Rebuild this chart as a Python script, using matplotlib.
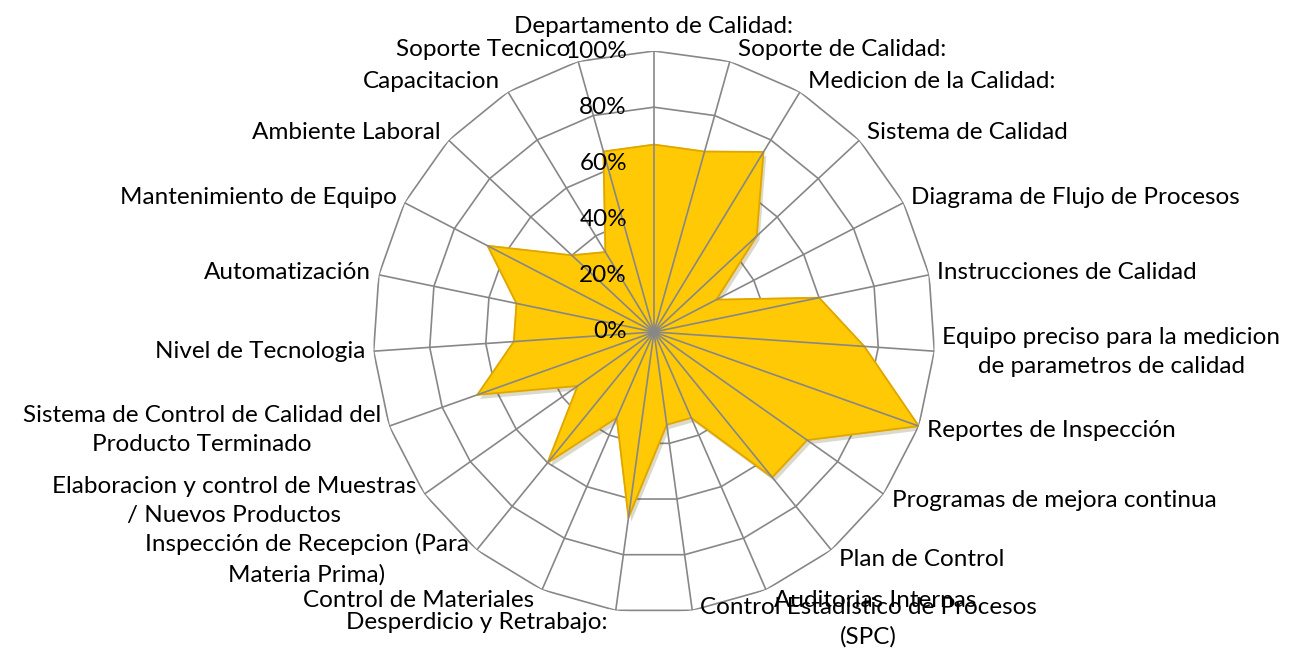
import numpy as np
import matplotlib.pyplot as plt
from matplotlib import patheffects as pe

categories = [
    'Departamento de Calidad:',
    'Soporte de Calidad:',
    'Medicion de la Calidad:',
    'Sistema de Calidad',
    'Diagrama de Flujo de Procesos',
    'Instrucciones de Calidad',
    'Equipo preciso para la medicion\nde parametros de calidad',
    'Reportes de Inspección',
    'Programas de mejora continua',
    'Plan de Control',
    'Auditorias Internas',
    'Control Estadistico de Procesos\n(SPC)',
    'Desperdicio y Retrabajo:',
    'Control de Materiales',
    'Inspección de Recepcion (Para\nMateria Prima)',
    'Elaboracion y control de Muestras\n/ Nuevos Productos',
    'Sistema de Control de Calidad del\nProducto Terminado',
    'Nivel de Tecnologia',
    'Automatización',
    'Mantenimiento de Equipo',
    'Ambiente Laboral',
    'Capacitacion',
    'Soporte Tecnico',
]
values = [0.667, 0.667, 0.75, 0.5, 0.25, 0.6, 0.75, 1.0, 0.667, 0.667, 0.333,
          0.333, 0.667, 0.333, 0.6, 0.333, 0.667, 0.5, 0.5, 0.667, 0.4, 0.333, 0.667]
rings = [0.2, 0.4, 0.6, 0.8, 1.0]
tick_vals = [0.0, 0.2, 0.4, 0.6, 0.8, 1.0]

FONT = 'Lato'
FS = 17.5
GRID = '#878787'

n = len(categories)
theta = np.arange(n) * 2 * np.pi / n
tc = np.append(theta, theta[0])
vc = np.append(values, values[0])

W, H = 1308, 654
cx, cy, R = 654, 322, 281
fig = plt.figure(figsize=(W / 100, H / 100), dpi=100)
ax = fig.add_axes([(cx - R) / W, (cy - R) / H, 2 * R / W, 2 * R / H], projection='polar')
ax.set_theta_zero_location('N')
ax.set_theta_direction(-1)
ax.set_ylim(0, 1)
ax.grid(False)
ax.spines['polar'].set_visible(False)
ax.set_xticks([])
ax.set_yticks([])
ax.patch.set_visible(False)

# polygon rings under the area
for lvl in rings:
    ax.plot(tc, [lvl] * (n + 1), color=GRID, lw=1.2, zorder=1)

ax.fill(tc, vc, color='#FFC905', zorder=2,
        path_effects=[pe.SimplePatchShadow(offset=(2, -3), alpha=0.2), pe.Normal()])
ax.plot(tc, vc, color='#E0A600', lw=1.3, zorder=2.5)

# spokes on top
for t in theta:
    ax.plot([t, t], [0, 1], color=GRID, lw=1.2, zorder=3)

for t, lab in zip(theta, categories):
    s, c = np.sin(t), np.cos(t)
    if abs(s) < 0.05:
        ha, off = 'center', (0, 14)
        va = 'bottom'
    elif s > 0:
        ha, off, va = 'left', (8, 12 * c), 'center'
    else:
        ha, off, va = 'right', (-8, 12 * c), 'center'
    ax.annotate(lab, xy=(t, 1), xytext=off, textcoords='offset pixels',
                ha=ha, va=va, multialignment='center', fontsize=FS,
                family=FONT, linespacing=1.5, annotation_clip=False)

for v in tick_vals:
    ax.annotate(f'{int(round(v * 100))}%', xy=(0, v), xytext=(-27, 0),
                textcoords='offset pixels', ha='right', va='center',
                fontsize=FS, family=FONT, zorder=5)

fig.savefig('out.png', dpi=100)
